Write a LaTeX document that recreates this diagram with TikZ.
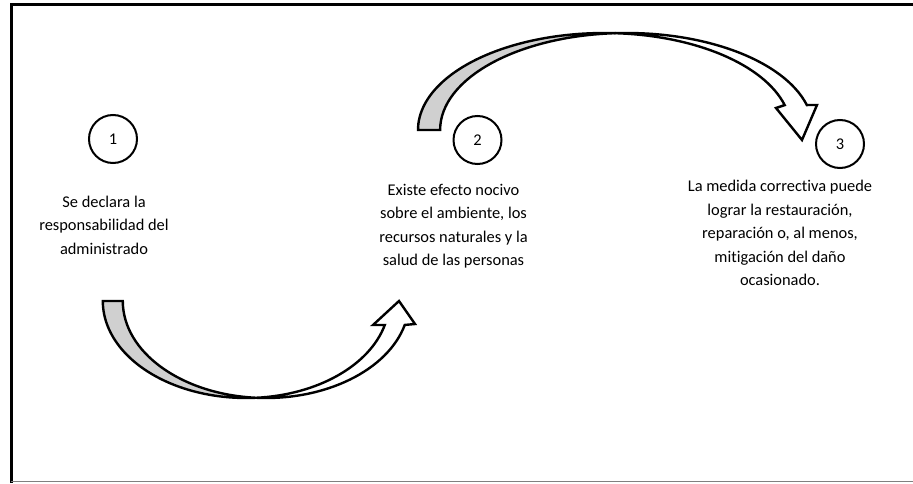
\documentclass[tikz,border=0pt]{standalone}
\usepackage{fontspec}
\setmainfont{Carlito}[Ligatures=NoCommon]
\usetikzlibrary{positioning}
\definecolor{backgray}{RGB}{208,208,208}
\begin{document}
\begin{tikzpicture}[x=1pt,y=1pt,
          num/.style={circle,draw,line width=2pt,minimum size=48pt,inner sep=0pt,font=\fontsize{16.4}{20}\selectfont},
          txt/.style={align=center,inner sep=0pt,font=\fontsize{16.4}{23.5}\selectfont},
          ribbon/.style={draw,line width=2.4pt,line join=miter}]

                \useasboundingbox (0,0) rectangle (913,483);
                \draw[line width=3pt] (11,0) -- (11,478) -- (913,478);
                \draw[gray,line width=1pt] (11,2) -- (913,2);

                \node[num] (N1) at (113,344) {1};
                \node[num] (N2) at (477.5,343) {2};
                \node[num] (N3) at (840,339) {3};

                \node[txt] (T1) at (104,258) {Se declara la\\responsabilidad del\\administrado};
                \node[txt] (T2) at (453.5,257) {Existe efecto nocivo\\sobre el ambiente, los\\recursos naturales y la\\salud de las personas};
                \node[txt] (T3) at (780,250) {La medida correctiva puede\\lograr la restauración,\\reparación o, al menos,\\mitigación del daño\\ocasionado.};

                % lower arrow
                \coordinate (A1) at (102.8,182);
                \coordinate (X1) at (256,85.24);
                \coordinate (E1) at (384.8,158.04);
                \filldraw[ribbon,fill=backgray] (A1) arc[start angle=180,end angle=274,x radius=143.2,y radius=97]
                        arc[start angle=266,end angle=180,x radius=143.2,y radius=97] -- cycle;
                \filldraw[ribbon,fill=white] (X1) arc[start angle=266,end angle=345.7,x radius=143.2,y radius=97]
                        -- (415,159) -- (399,182) -- (373,158) -- (E1)
                        arc[start angle=345.7,end angle=274,x radius=143.2,y radius=97] -- cycle;

                % upper arrow
                \coordinate (A2) at (418,353);
                \coordinate (X2) at (615.56,449.83);
                \coordinate (E2) at (784.7,377.9);
                \filldraw[ribbon,fill=backgray] (A2) arc[start angle=180,end angle=86.6,x radius=186.5,y radius=97]
                        arc[start angle=93.4,end angle=180,x radius=186.5,y radius=97] -- cycle;
                \filldraw[ribbon,fill=white] (X2) arc[start angle=93.4,end angle=14.9,x radius=186.5,y radius=97]
                        -- (817,378) -- (802,343) -- (776,375) -- (E2)
                        arc[start angle=14.9,end angle=86.6,x radius=186.5,y radius=97] -- cycle;
              \end{tikzpicture}
\end{document}
